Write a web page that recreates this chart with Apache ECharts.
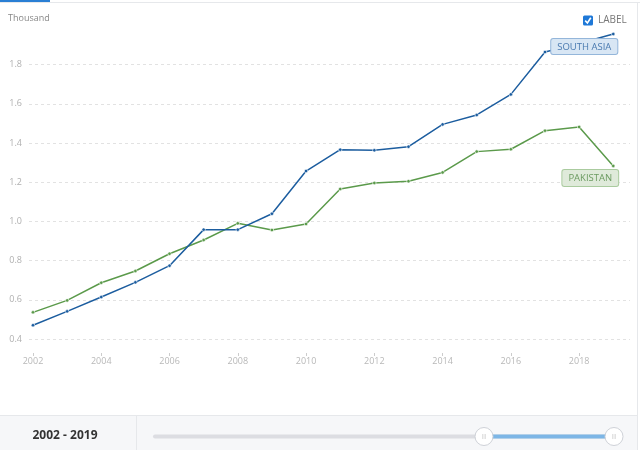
<!DOCTYPE html>
<html><head><meta charset="utf-8">
<script src="https://cdn.jsdelivr.net/npm/echarts@6/dist/echarts.min.js"></script>
<style>html,body{margin:0;padding:0;background:#fff}#c{width:640px;height:450px}</style>
</head><body><div id="c"></div>
<script>
var years = [2002,2003,2004,2005,2006,2007,2008,2009,2010,2011,2012,2013,2014,2015,2016,2017,2018,2019];
var southAsia = [0.47,0.541,0.614,0.689,0.774,0.958,0.958,1.039,1.257,1.366,1.363,1.381,1.495,1.543,1.648,1.864,1.908,1.956];
var pakistan = [0.536,0.597,0.687,0.747,0.835,0.905,0.99,0.956,0.987,1.165,1.196,1.205,1.25,1.356,1.368,1.463,1.482,1.283];
var xTickLabels = [2002,2004,2006,2008,2010,2012,2014,2016,2018];
var yTickLabels = [0.4,0.6,0.8,1.0,1.2,1.4,1.6,1.8];
var seriesNames = ['SOUTH ASIA','PAKISTAN'];
var rangeText = '2002 - 2019';

function pairs(vals, name, lab){
  return vals.map(function(v,i){
    var d = {value:[years[i], v]};
    if(i === vals.length-1){ d.label = lab; }
    return d;
  });
}
var chart = echarts.init(document.getElementById('c'), null, {renderer:'canvas'});
var blue = '#1c5d9f', green = '#5b9a4b';
chart.setOption({
  animation:false,
  title:{text:'Thousand', left:3, top:9, textStyle:{fontSize:9, fontWeight:'normal', color:'#888', fontFamily:'Open Sans'}},
  grid:{left:29, right:10, top:25.4, bottom:111, containLabel:false},
  xAxis:{type:'value', min:2001.883, max:2019.49, offset:14,
    axisLine:{show:false},
    axisTick:{show:true, length:3, lineStyle:{color:'#ccc'}, customValues:xTickLabels},
    axisLabel:{color:'#b8b8b8', fontSize:9, margin:4, fontFamily:'Open Sans', customValues:xTickLabels, formatter:function(v){return String(v);}},
    splitLine:{show:false}},
  yAxis:{type:'value', min:0.4, max:2.0, interval:0.2,
    axisLine:{show:false}, axisTick:{show:false},
    axisLabel:{color:'#b0b0b0', fontSize:9, margin:7, fontFamily:'Open Sans', showMaxLabel:false,
      formatter:function(v){return yTickLabels.some(function(t){return Math.abs(t-v)<1e-6;}) ? v.toFixed(1) : '';}},
    splitLine:{show:true, showMaxLine:false, lineStyle:{color:'#e2e2e2', type:[3,3], width:1}}},
  series:[
    {name:seriesNames[0], type:'line', data:pairs(southAsia, seriesNames[0], {show:true, position:'bottom', distance:3, offset:[-29,0],
        formatter:seriesNames[0], color:'#4a7ab0', fontSize:9.5, fontFamily:'Open Sans', backgroundColor:'#d8e6f4', borderColor:'#94b6da', borderWidth:1, borderRadius:2, padding:[3,6,2,6]}),
      symbol:'circle', symbolSize:3.5, showAllSymbol:true, lineStyle:{color:blue, width:1.5}, itemStyle:{color:blue, borderColor:'#fff', borderWidth:0.6}, z:3},
    {name:seriesNames[1], type:'line', data:pairs(pakistan, seriesNames[1], {show:true, position:'bottom', distance:2, offset:[-23,0],
        formatter:seriesNames[1], color:'#6b9b60', fontSize:9.5, fontFamily:'Open Sans', backgroundColor:'#dfeada', borderColor:'#aacb9f', borderWidth:1, borderRadius:2, padding:[3,6,3,6]}),
      symbol:'circle', symbolSize:3.5, showAllSymbol:true, lineStyle:{color:green, width:1.5}, itemStyle:{color:green, borderColor:'#fff', borderWidth:0.6}, z:2}
  ],
  graphic:[
    {type:'rect', shape:{x:0,y:2,width:640,height:1}, style:{fill:'#e6e8eb'}, silent:true},
    {type:'rect', shape:{x:0,y:0,width:50,height:2}, style:{fill:'#2a7fd4'}, silent:true},
    {type:'rect', shape:{x:637,y:2,width:1,height:448}, style:{fill:'#e6e8eb'}, silent:true},
    {type:'rect', shape:{x:583,y:15.5,width:10,height:10, r:1.5}, style:{fill:'#1e78d7'}, silent:true},
    {type:'polyline', shape:{points:[[585.2,20.6],[587.4,23],[590.8,17.8]]}, style:{stroke:'#fff', lineWidth:1.6, fill:null}, silent:true},
    {type:'text', x:598, y:20.5, style:{text:'LABEL', fill:'#777', fontSize:10, fontFamily:'Open Sans', verticalAlign:'middle'}, silent:true},
    {type:'rect', shape:{x:0,y:415,width:637,height:35}, style:{fill:'#f6f7f9'}, silent:true},
    {type:'rect', shape:{x:0,y:415,width:637,height:1}, style:{fill:'#e6e8eb'}, silent:true},
    {type:'rect', shape:{x:136,y:416,width:1,height:34}, style:{fill:'#e6e8eb'}, silent:true},
    {type:'text', x:65, y:436, style:{text:rangeText, fill:'#333', fontSize:12, fontWeight:'bold', fontFamily:'Open Sans', align:'center', verticalAlign:'middle'}, silent:true},
    {type:'rect', shape:{x:153,y:434.5,width:461,height:4, r:2}, style:{fill:'#dcdde2'}, silent:true},
    {type:'rect', shape:{x:484,y:434.5,width:130,height:4}, style:{fill:'#7db6e6'}, silent:true},
    {type:'circle', shape:{cx:484,cy:436.5,r:9}, style:{fill:'#fff', stroke:'#cfd2d8', lineWidth:1}, silent:true},
    {type:'text', x:484, y:436.5, style:{text:'|||', fill:'#c8c8c8', fontSize:6, align:'center', verticalAlign:'middle'}, silent:true},
    {type:'circle', shape:{cx:614,cy:436.5,r:9}, style:{fill:'#fff', stroke:'#cfd2d8', lineWidth:1}, silent:true},
    {type:'text', x:614, y:436.5, style:{text:'|||', fill:'#c8c8c8', fontSize:6, align:'center', verticalAlign:'middle'}, silent:true}
  ]
});
</script></body></html>
